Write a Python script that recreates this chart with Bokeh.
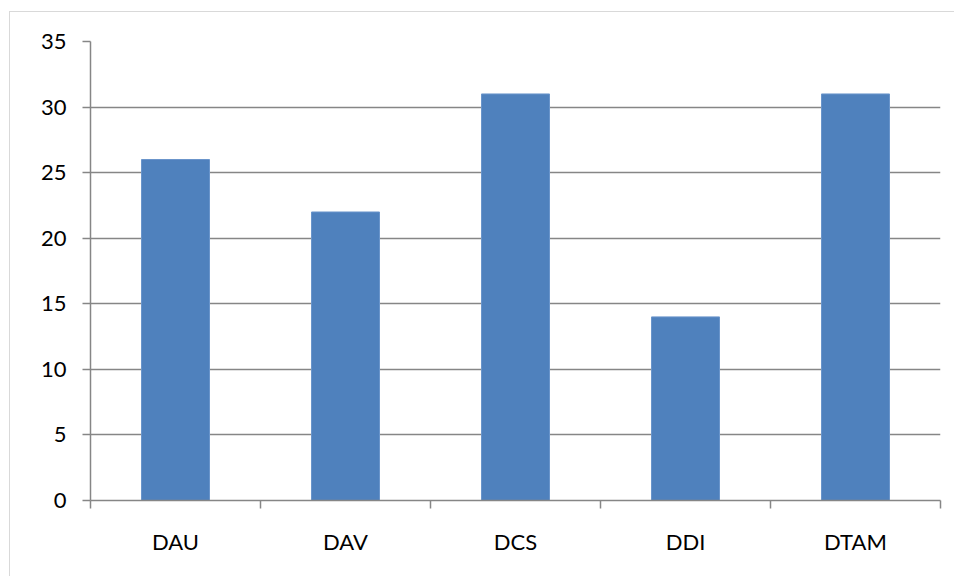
from bokeh.plotting import figure
from bokeh.models import Range1d, LinearAxis, FixedTicker
from bokeh.embed import file_html
from bokeh.resources import INLINE

categories = ["DAU", "DAV", "DCS", "DDI", "DTAM"]
values = [26, 22, 31, 14, 31]
y_ticks = [0, 5, 10, 15, 20, 25, 30, 35]

AXIS = "#868686"
FONT = "Lato"
FSIZE = "22px"

n = len(categories)
centers = [i + 0.5 for i in range(n)]
bounds = list(range(n + 1))

p = figure(width=945, height=565,
           x_range=Range1d(0, n), y_range=Range1d(0, 35),
           output_backend="svg", toolbar_location=None,
           x_axis_location=None,
           min_border_left=80, min_border_top=29,
           min_border_right=15, min_border_bottom=77)
p.outline_line_color = None
p.background_fill_color = "white"
p.border_fill_color = "white"
p.styles = {"border-left": "1px solid #D9D9D9", "border-top": "1px solid #D9D9D9",
            "margin-left": "9px", "margin-top": "11px"}

p.vbar(x=centers, top=values, width=0.4, bottom=0,
       fill_color="#4F81BD", line_color="#6A95CB", line_width=1)

# y axis
p.yaxis.ticker = FixedTicker(ticks=y_ticks)
p.yaxis.axis_line_color = AXIS
p.yaxis.axis_line_width = 1.5
p.yaxis.major_tick_line_color = AXIS
p.yaxis.major_tick_line_width = 1.5
p.yaxis.major_tick_out = 8
p.yaxis.major_tick_in = 0
p.yaxis.minor_tick_line_color = None
p.yaxis.major_label_text_font = FONT
p.yaxis.major_label_text_font_size = FSIZE
p.yaxis.major_label_text_color = "black"
p.yaxis.major_label_standoff = 16

p.ygrid.ticker = FixedTicker(ticks=y_ticks)
p.ygrid.grid_line_color = AXIS
p.ygrid.grid_line_width = 1.5
p.xgrid.grid_line_color = None

# x axis: labels at category centres, tick marks (minor) at boundaries
x_axis = LinearAxis(ticker=FixedTicker(ticks=centers, minor_ticks=bounds),
                    major_label_overrides={c: name for c, name in zip(centers, categories)},
                    axis_line_color=AXIS, axis_line_width=1.5,
                    major_tick_line_color=None, major_tick_out=0, major_tick_in=0,
                    minor_tick_line_color=AXIS, minor_tick_line_width=1.5,
                    minor_tick_out=8, minor_tick_in=0,
                    major_label_text_font=FONT,
                    major_label_text_font_size=FSIZE,
                    major_label_text_color="black",
                    major_label_standoff=19)
p.add_layout(x_axis, "below")

open("out.html", "w").write(file_html(p, INLINE))
